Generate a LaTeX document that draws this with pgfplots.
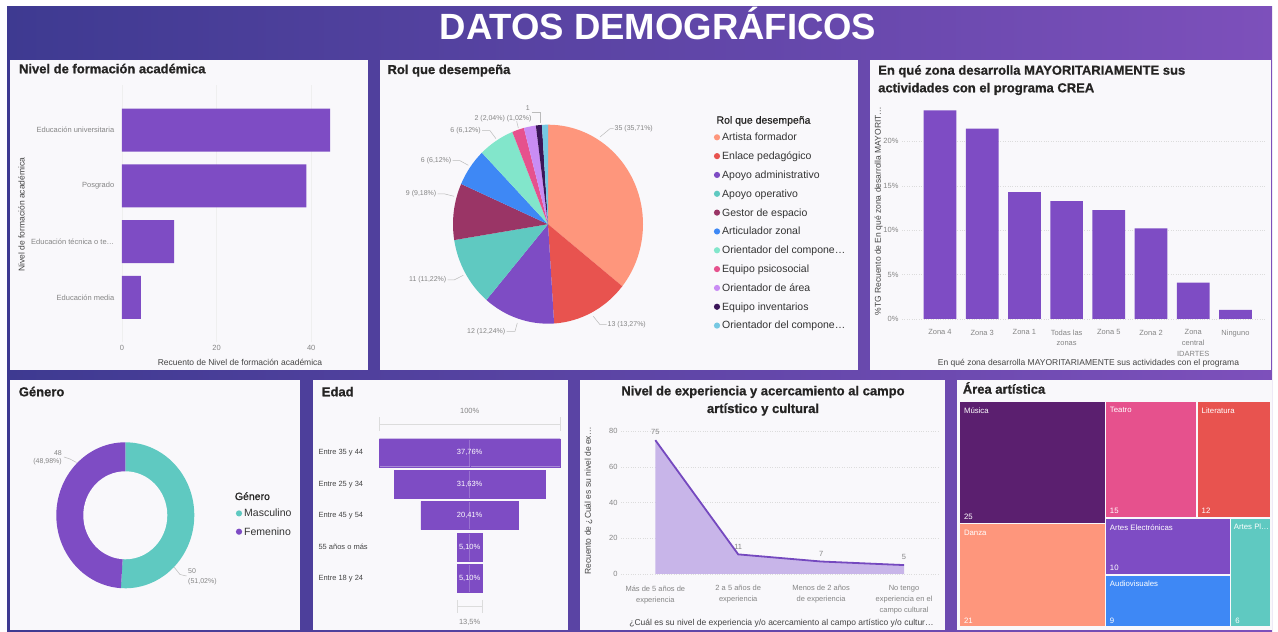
\documentclass[border=0pt]{standalone}
\usepackage{fontspec}
\setmainfont{Liberation Sans}
\newfontfamily\heavyfont[FakeBold=0.8]{Liberation Sans}
\usepackage{pgfplots}
\usepackage{pgfplotstable}
\pgfplotsset{compat=1.18}

\definecolor{bgL}{HTML}{3E3A91}
\definecolor{bgR}{HTML}{7D50BB}
\definecolor{panel}{HTML}{F9F8FB}
\definecolor{pbpurple}{HTML}{7E4CC4}
\definecolor{salmon}{HTML}{FE967C}
\definecolor{pbred}{HTML}{E8534F}
\definecolor{pbteal}{HTML}{5FC9C1}
\definecolor{maroon}{HTML}{9A3566}
\definecolor{pbblue}{HTML}{3E88F5}
\definecolor{mint}{HTML}{82E6CB}
\definecolor{pbpink}{HTML}{E6518D}
\definecolor{lavender}{HTML}{C98CF4}
\definecolor{darkpur}{HTML}{3A1558}
\definecolor{ltblue}{HTML}{76C8E2}
\definecolor{musica}{HTML}{5B1F6F}
\definecolor{titlec}{HTML}{252423}
\definecolor{tickc}{HTML}{858585}
\definecolor{labc}{HTML}{444444}
\definecolor{legc}{HTML}{333333}
\definecolor{gridc}{HTML}{DCDCDC}
\definecolor{gridA}{HTML}{EFEFEF}
\definecolor{leadc}{HTML}{BBBBBB}
\definecolor{areafill}{HTML}{C8B5E9}
\definecolor{linepur}{HTML}{7549BF}

\colorlet{pie1}{salmon}\colorlet{pie2}{pbred}\colorlet{pie3}{pbpurple}
\colorlet{pie4}{pbteal}\colorlet{pie5}{maroon}\colorlet{pie6}{pbblue}
\colorlet{pie7}{mint}\colorlet{pie8}{pbpink}\colorlet{pie9}{lavender}
\colorlet{pie10}{darkpur}\colorlet{pie11}{ltblue}

\newcommand\ttl{\fontsize{13}{15}\selectfont\heavyfont\bfseries}
\newcommand\tck{\fontsize{7.5}{9}\selectfont}
\newcommand\lab{\fontsize{8.5}{10}\selectfont}
\newcommand\leg{\fontsize{10.5}{12}\selectfont}
\newcommand\sml{\fontsize{7}{8.5}\selectfont}

\pgfplotsset{every axis/.append style={scale only axis,
  axis line style={draw=none}, tick style={draw=none},
  tick label style={font=\tck, text=tickc},
  /pgf/number format/assume math mode=true}}

\pgfplotstableread{
y v
4 37.76
3 31.63
2 20.41
1 5.10
0 5.10
}\edadtab

% pie angles from the counts
\def\cum{0}
\foreach \v [count=\i] in {35,13,12,11,9,6,6,2,2,1,1}{%
  \pgfmathsetmacro\s{90-\cum/98*360}%
  \pgfmathsetmacro\n{\cum+\v}%
  \pgfmathsetmacro\e{90-\n/98*360}%
  \expandafter\xdef\csname pieS\i\endcsname{\s}%
  \expandafter\xdef\csname pieE\i\endcsname{\e}%
  \xdef\cum{\n}%
}

\begin{document}%
\begin{tikzpicture}[x=1pt,y=1pt]
\fill[white] (0,0) rectangle (1278,632);
\shade[left color=bgL,right color=bgR] (7,0) rectangle (1272,625);
\node[anchor=base,white,font=\fontsize{36.5}{40}\selectfont\bfseries] at (658,592) {DATOS DEMOGRÁFICOS};

% panels
\fill[panel] (10,262) rectangle (368,572);
\fill[panel] (380,262) rectangle (858,572);
\fill[panel] (870,262) rectangle (1271,572);
\fill[panel] (10,2) rectangle (300,252);
\fill[panel] (313,2) rectangle (568,252);
\fill[panel] (580,2) rectangle (945,252);
\fill[panel] (957,2) rectangle (1272,252);

% ---------- Panel A
\node[anchor=base west,text=titlec,font=\ttl] at (15.5,558.7) {Nivel de formación académica};
\begin{axis}[at={(122pt,289.9pt)},anchor=south west,width=222.3pt,height=256.7pt,
  xbar,bar width=43pt,xmin=0,xmax=47,ymin=-0.8,ymax=3.8,
  xtick={0,20,40},ytick={0,1,2,3},
  yticklabels={Educación media,Educación técnica o te…,Posgrado,Educación universitaria},
  xmajorgrids,grid style={gridA}]
\addplot[fill=pbpurple,draw=none] coordinates {(44,3) (39,2) (11,1) (4,0)};
\end{axis}
\node[rotate=90,font=\lab,text=labc] at (21.5,417.3) {Nivel de formación académica};
\node[font=\lab,text=labc] at (240,270) {Recuento de Nivel de formación académica};

% ---------- Panel B
\node[anchor=base west,text=titlec,font=\ttl] at (384,558) {Rol que desempeña};
\begin{axis}[at={(548pt,407.8pt)},anchor=center,width=200pt,height=210pt,hide axis,
  xmin=-1,xmax=1,ymin=-1,ymax=1,clip=false]
\pgfplotsinvokeforeach{1,2,3,4,5,6,7,8,9,10,11}{%
  \edef\tmp{\noexpand\fill[pie#1] (axis cs:0,0) -- ++(\csname pieS#1\endcsname:95pt and 99.5pt)
    arc[start angle=\csname pieS#1\endcsname, end angle=\csname pieE#1\endcsname, x radius=95pt, y radius=99.5pt] -- cycle;}\tmp
}
\end{axis}
\begin{scope}[leadc,line width=0.5pt]
\draw (600,495) -- (610,503.3) -- (613.5,503.3);
\draw (593.3,315.7) -- (600,307.3) -- (606.5,307.3);
\draw (506.5,300.7) -- (515,300.7) -- (517.3,309);
\draw (447.5,352) -- (454,352) -- (463.3,356.7);
\draw (437.5,438) -- (445,438) -- (454,435.7);
\draw (452.5,471.3) -- (460,471.3) -- (468.3,466.7);
\draw (482,501.3) -- (490,501.3) -- (496,493.3);
\draw (516.7,510.7) -- (518.3,504);
\draw (531.7,520) -- (540.7,520) -- (540.7,509);
\end{scope}
\begin{scope}[font=\sml,text=tickc]
\node[anchor=west,inner sep=0.5pt] at (614,503.3) {35 (35,71\%)};
\node[anchor=west,inner sep=0.5pt] at (607,307.3) {13 (13,27\%)};
\node[anchor=east,inner sep=0.5pt] at (506,300.7) {12 (12,24\%)};
\node[anchor=east,inner sep=0.5pt] at (447,352) {11 (11,22\%)};
\node[anchor=east,inner sep=0.5pt] at (437,438) {9 (9,18\%)};
\node[anchor=east,inner sep=0.5pt] at (452,471.3) {6 (6,12\%)};
\node[anchor=east,inner sep=0.5pt] at (481.5,501.3) {6 (6,12\%)};
\node[inner sep=0.5pt] at (503,513.3) {2 (2,04\%) (1,02\%)};
\node[inner sep=0.5pt] at (527.7,524) {1};
\end{scope}
\node[anchor=base west,text=titlec,font=\leg\heavyfont] at (713,508.3) {Rol que desempeña};
\foreach \t [count=\i] in {Artista formador,Enlace pedagógico,Apoyo administrativo,Apoyo operativo,Gestor de espacio,Articulador zonal,Orientador del compone…,Equipo psicosocial,Orientador de área,Equipo inventarios,Orientador del compone…}{%
  \pgfmathsetmacro\yy{632-140.7-(\i-1)*18.83}
  \fill[pie\i] (717,\yy+3.4) circle (3.1pt);
  \node[anchor=base west,text=legc,font=\leg,inner sep=0pt] at (722,\yy) {\t};
}

% ---------- Panel C
\node[anchor=base west,text=titlec,font=\ttl] at (874.7,557.3) {En qué zona desarrolla MAYORITARIAMENTE sus};
\node[anchor=base west,text=titlec,font=\ttl] at (874.7,539.7) {actividades con el programa CREA};
\begin{axis}[at={(902pt,313pt)},anchor=south west,width=363pt,height=217.7pt,
  ybar,bar width=32.7pt,xmin=-0.9,xmax=7.7,ymin=0,ymax=24.5,
  xtick={0,1,2,3,4,5,6,7},
  xticklabels={Zona 4,Zona 3,Zona 1,Todas las\\zonas,Zona 5,Zona 2,Zona\\central\\IDARTES,Ninguno},
  xticklabel style={align=center,font=\fontsize{7.5}{10.7}\selectfont,yshift=-3pt},
  ytick={0,5,10,15,20},yticklabels={0\%,5\%,10\%,15\%,20\%},
  ymajorgrids,grid style={gridc,dotted}]
\addplot[fill=pbpurple,draw=none] coordinates {(0,23.47) (1,21.43) (2,14.29) (3,13.27) (4,12.24) (5,10.20) (6,4.08) (7,1.02)};
\end{axis}
\node[rotate=90,font=\lab,text=labc] at (878.5,421) {\%TG Recuento de En qué zona desarrolla MAYORIT…};
\node[font=\lab,text=labc] at (1088.5,269) {En qué zona desarrolla MAYORITARIAMENTE sus actividades con el programa};

% ---------- Panel D
\node[anchor=base west,text=titlec,font=\ttl] at (15.3,235.7) {Género};
\begin{axis}[at={(125.3pt,116.7pt)},anchor=center,width=160pt,height=160pt,hide axis,
  xmin=-1,xmax=1,ymin=-1,ymax=1,clip=false]
\fill[pbteal] (axis cs:0,0) -- ++(90:69pt and 73pt) arc[start angle=90,end angle={90-50/98*360},x radius=69pt,y radius=73pt] -- cycle;
\fill[pbpurple] (axis cs:0,0) -- ++({90-50/98*360}:69pt and 73pt) arc[start angle={90-50/98*360},end angle=-270,x radius=69pt,y radius=73pt] -- cycle;
\fill[panel] (axis cs:0,0) ellipse[x radius=42pt,y radius=44pt];
\end{axis}
\draw[leadc,line width=0.5pt] (64,175) -- (70,173) -- (76.5,169.5);
\draw[leadc,line width=0.5pt] (174,65) -- (180,57.5) -- (186.5,56);
\node[anchor=east,font=\sml,text=tickc,inner sep=0pt] at (62,179) {48};
\node[anchor=east,font=\sml,text=tickc,inner sep=0pt] at (62,170.7) {(48,98\%)};
\node[anchor=west,font=\sml,text=tickc,inner sep=0pt] at (188,60.7) {50};
\node[anchor=west,font=\sml,text=tickc,inner sep=0pt] at (188,50.7) {(51,02\%)};
\node[anchor=base west,text=titlec,font=\leg\heavyfont,inner sep=0pt] at (234.7,132) {Género};
\fill[pbteal] (239,118.6) circle (3.1pt);
\node[anchor=base west,text=legc,font=\leg,inner sep=0pt] at (244,115) {Masculino};
\fill[pbpurple] (239,100.3) circle (3.1pt);
\node[anchor=base west,text=legc,font=\leg,inner sep=0pt] at (244,96.7) {Femenino};

% ---------- Panel E
\node[anchor=base west,text=titlec,font=\ttl] at (318.3,235.7) {Edad};
\begin{axis}[at={(374pt,37.8pt)},anchor=south west,width=191.4pt,height=157.3pt,hide axis,
  xmin=-20,xmax=20,ymin=-0.5,ymax=4.5,clip=false]
\addplot[xbar,bar width=28pt,bar shift=0pt,fill=pbpurple,draw=pbpurple,line width=0.2pt] table[x expr=\thisrow{v}/2,y=y]{\edadtab};
\addplot[xbar,bar width=28pt,bar shift=0pt,fill=pbpurple,draw=pbpurple,line width=0.2pt] table[x expr=-\thisrow{v}/2,y=y]{\edadtab};
\node[white,font=\tck] at (axis cs:0,4) {37,76\%};
\node[white,font=\tck] at (axis cs:0,3) {31,63\%};
\node[white,font=\tck] at (axis cs:0,2) {20,41\%};
\node[white,font=\tck] at (axis cs:0,1) {5,10\%};
\node[white,font=\tck] at (axis cs:0,0) {5,10\%};
\draw[gridc,line width=0.6pt] (axis cs:-18.88,4.91) -- (axis cs:18.88,4.91);
\draw[gridc,line width=0.6pt] (axis cs:-18.88,4.69) -- (axis cs:-18.88,5.13);
\draw[gridc,line width=0.6pt] (axis cs:18.88,4.69) -- (axis cs:18.88,5.13);
\node[font=\tck,text=tickc] at (axis cs:0,5.32) {100\%};
\draw[gridc,line width=0.6pt] (axis cs:-2.55,-0.90) -- (axis cs:2.55,-0.90);
\draw[gridc,line width=0.6pt] (axis cs:-2.55,-0.68) -- (axis cs:-2.55,-1.10);
\draw[gridc,line width=0.6pt] (axis cs:2.55,-0.68) -- (axis cs:2.55,-1.10);
\node[font=\tck,text=tickc] at (axis cs:0,-1.39) {13,5\%};
\end{axis}
\begin{scope}[font=\tck,text=labc]
\node[anchor=west,inner sep=0pt] at (318.3,179.3) {Entre 35 y 44};
\node[anchor=west,inner sep=0pt] at (318.3,147.8) {Entre 25 y 34};
\node[anchor=west,inner sep=0pt] at (318.3,116.5) {Entre 45 y 54};
\node[anchor=west,inner sep=0pt] at (318.3,84.8) {55 años o más};
\node[anchor=west,inner sep=0pt] at (318.3,53.5) {Entre 18 y 24};
\end{scope}

% ---------- Panel F
\node[text=titlec,font=\ttl,anchor=base] at (763,236.7) {Nivel de experiencia y acercamiento al campo};
\node[text=titlec,font=\ttl,anchor=base] at (763,219) {artístico y cultural};
\begin{axis}[at={(621pt,58pt)},anchor=south west,width=319pt,height=149.9pt,
  xmin=-0.414,xmax=3.434,ymin=0,ymax=84,
  xtick={0,1,2,3},
  xticklabels={Más de 5 años de\\experiencia,2 a 5 años de\\experiencia,Menos de 2 años\\de experiencia,No tengo\\experiencia en el\\campo cultural},
  xticklabel style={align=center,font=\fontsize{7.5}{11}\selectfont,yshift=-8pt},
  ytick={0,20,40,60,80},ymajorgrids,grid style={gridc,dotted}]
\addplot[draw=none,fill=areafill] coordinates {(0,75) (1,11) (2,7) (3,5)} \closedcycle;
\addplot[linepur,line width=1.8pt,point meta=y,nodes near coords,
  nodes near coords style={font=\tck,text=tickc,anchor=south,yshift=1pt}]
  coordinates {(0,75) (1,11) (2,7) (3,5)};
\end{axis}
\node[rotate=90,font=\lab,text=labc] at (588.5,131) {Recuento de ¿Cuál es su nivel de ex…};
\node[font=\lab,text=labc] at (781.5,9) {¿Cuál es su nivel de experiencia y/o acercamiento al campo artístico y/o cultur…};

% ---------- Panel G
\node[anchor=base west,text=titlec,font=\ttl] at (959.3,238.3) {Área artística};
\begin{axis}[at={(959.3pt,5.7pt)},anchor=south west,width=311pt,height=225pt,hide axis,
  xmin=0,xmax=1,ymin=0,ymax=1,clip=false]
\addplot[fill=musica,draw=panel,line width=1.5pt] coordinates {(0,0.4565) (0.4694,0.4565) (0.4694,1) (0,1)} -- cycle;
\addplot[fill=salmon,draw=panel,line width=1.5pt] coordinates {(0,0) (0.4694,0) (0.4694,0.4565) (0,0.4565)} -- cycle;
\addplot[fill=pbpink,draw=panel,line width=1.5pt] coordinates {(0.4694,0.4808) (0.7642,0.4808) (0.7642,1) (0.4694,1)} -- cycle;
\addplot[fill=pbred,draw=panel,line width=1.5pt] coordinates {(0.7642,0.4808) (1,0.4808) (1,1) (0.7642,1)} -- cycle;
\addplot[fill=pbpurple,draw=panel,line width=1.5pt] coordinates {(0.4694,0.2277) (0.8727,0.2277) (0.8727,0.4808) (0.4694,0.4808)} -- cycle;
\addplot[fill=pbblue,draw=panel,line width=1.5pt] coordinates {(0.4694,0) (0.8727,0) (0.8727,0.2277) (0.4694,0.2277)} -- cycle;
\addplot[fill=pbteal,draw=panel,line width=1.5pt] coordinates {(0.8727,0) (1,0) (1,0.4808) (0.8727,0.4808)} -- cycle;
\begin{scope}[every node/.style={white,font=\fontsize{7.8}{9}\selectfont,inner sep=0pt}]
\node[anchor=north west] at (axis cs:0,1) [xshift=4.5pt,yshift=-6pt] {Música};
\node[anchor=south west] at (axis cs:0,0.4565) [xshift=4.5pt,yshift=4pt] {25};
\node[anchor=north west] at (axis cs:0,0.4565) [xshift=4.5pt,yshift=-6pt] {Danza};
\node[anchor=south west] at (axis cs:0,0) [xshift=4.5pt,yshift=3pt] {21};
\node[anchor=north west] at (axis cs:0.4694,1) [xshift=4.5pt,yshift=-6pt] {Teatro};
\node[anchor=south west] at (axis cs:0.4694,0.4808) [xshift=4.5pt,yshift=4pt] {15};
\node[anchor=north west] at (axis cs:0.7642,1) [xshift=4.5pt,yshift=-6pt] {Literatura};
\node[anchor=south west] at (axis cs:0.7642,0.4808) [xshift=4.5pt,yshift=4pt] {12};
\node[anchor=north west] at (axis cs:0.4694,0.4808) [xshift=4.5pt,yshift=-6pt] {Artes Electrónicas};
\node[anchor=south west] at (axis cs:0.4694,0.2277) [xshift=4.5pt,yshift=4pt] {10};
\node[anchor=north west] at (axis cs:0.4694,0.2277) [xshift=4.5pt,yshift=-6pt] {Audiovisuales};
\node[anchor=south west] at (axis cs:0.4694,0) [xshift=4.5pt,yshift=3pt] {9};
\node[anchor=north west] at (axis cs:0.8727,0.4808) [xshift=3pt,yshift=-6pt] {Artes Pl…};
\node[anchor=south west] at (axis cs:0.8727,0) [xshift=4.5pt,yshift=3pt] {6};
\end{scope}
\end{axis}
\pgfresetboundingbox
\path[use as bounding box] (0,0) rectangle (1278,632);
\end{tikzpicture}%
\end{document}
